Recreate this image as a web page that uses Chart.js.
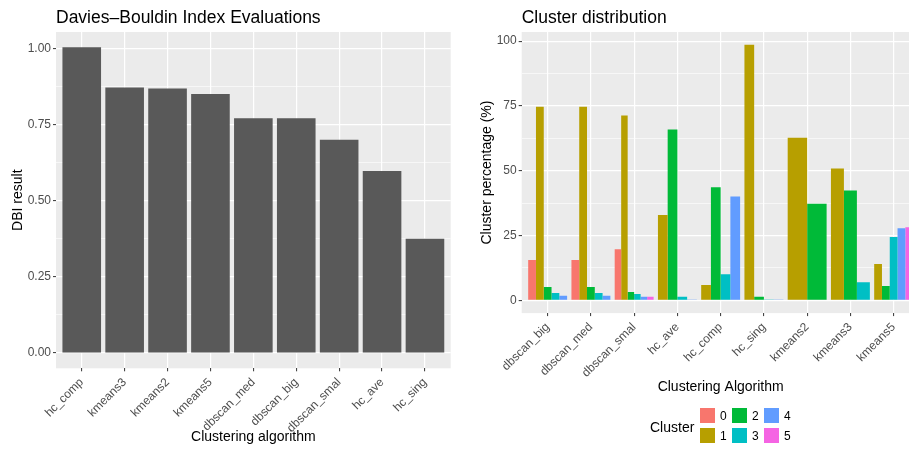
<!DOCTYPE html>
<html><head><meta charset="utf-8">
<script src="https://cdn.jsdelivr.net/npm/chart.js@4.4.1/dist/chart.umd.min.js"></script>
<style>
html,body{margin:0;padding:0;background:#fff;width:909px;height:450px;overflow:hidden;position:relative;font-family:'Liberation Sans',Arial,sans-serif;}
canvas{position:absolute;top:0;}
#c1{left:0px}
#c2{left:460px}
.ptitle{position:absolute;top:7px;font-size:17.5px;line-height:20px;color:#000;white-space:nowrap;}
.lgtitle{position:absolute;font-size:14px;line-height:16px;color:#000;white-space:nowrap;}
.key{position:absolute;width:15px;height:15px;}
.klab{position:absolute;font-size:12px;line-height:14px;color:#000;}
</style>
</head><body>
<canvas id="c1" width="460" height="450"></canvas>
<canvas id="c2" width="470" height="450"></canvas>
<div class="ptitle" style="left:56px">Davies–Bouldin Index Evaluations</div>
<div class="ptitle" style="left:521.7px">Cluster distribution</div>
<div id="legend"></div>
<script>
// ---- data: left chart ----
const dbiCategories = ['hc_comp','kmeans3','kmeans2','kmeans5','dbscan_med','dbscan_big','dbscan_smal','hc_ave','hc_sing'];
const dbiValues = [1.004, 0.872, 0.869, 0.851, 0.771, 0.771, 0.700, 0.598, 0.375];
const dbiMajorTicks = [0, 0.25, 0.5, 0.75, 1.0];
const dbiMinorTicks = [0.125, 0.375, 0.625, 0.875];

// ---- data: right chart ----
const algoCategories = ['dbscan_big','dbscan_med','dbscan_smal','hc_ave','hc_comp','hc_sing','kmeans2','kmeans3','kmeans5'];
const clusterNames = ['0','1','2','3','4','5'];
const cluster0 = [15.6, 15.6, 19.7, null, null, null, null, null, null];
const cluster1 = [74.7, 74.7, 71.3, 32.9, 5.9, 98.6, 62.7, 50.9, 14.0];
const cluster2 = [5.1, 5.1, 3.2, 65.9, 43.6, 1.4, 37.3, 42.4, 5.5];
const cluster3 = [2.8, 2.8, 2.4, 1.4, 10.1, 0.3, null, 7.0, 24.4];
const cluster4 = [1.8, 1.8, 1.4, 0.3, 40.1, 0.3, null, null, 27.8];
const cluster5 = [null, null, 1.4, null, null, null, null, null, 28.2];
const clusterColors = ['#F8766D','#B79F00','#00BA38','#00BFC4','#619CFF','#F564E3'];
const pctMajorTicks = [0, 25, 50, 75, 100];
const pctMinorTicks = [12.5, 37.5, 62.5, 87.5];

Chart.defaults.font.family = "'Liberation Sans', Arial, sans-serif";

const panelBg = {
  id: 'panelBg',
  beforeDraw(chart) {
    const {ctx, chartArea: a} = chart;
    ctx.save();
    ctx.fillStyle = '#EBEBEB';
    ctx.fillRect(a.left, a.top, a.right - a.left, a.bottom - a.top);
    ctx.restore();
  }
};

function yScale(majors, minors, lo, hi, fmt, title, width, titlePad) {
  const all = majors.concat(minors).sort((a, b) => a - b);
  return {
    type: 'linear', min: lo, max: hi,
    afterBuildTicks: s => { s.ticks = all.map(v => ({value: v})); },
    afterFit: s => { s.width = width; },
    border: {display: false},
    grid: {
      color: '#FFFFFF',
      lineWidth: c => (c.tick && majors.includes(c.tick.value)) ? 1.2 : 0.6,
      tickLength: 3,
      tickColor: c => (c.tick && majors.includes(c.tick.value)) ? '#333333' : 'rgba(0,0,0,0)',
      tickWidth: 1
    },
    ticks: {autoSkip: false, padding: 2, color: '#4D4D4D', font: {size: 12},
      callback: v => majors.includes(v) ? fmt(v) : ''},
    title: {display: true, text: title, color: '#000', font: {size: 14}, padding: {top: titlePad, bottom: 0}}
  };
}

function xScale(height, title, titlePad) {
  return {
    type: 'category', offset: true,
    afterBuildTicks: s => { s._startValue -= 0.1; s._valueRange += 0.2; },
    afterFit: s => { s.height = height; },
    border: {display: false},
    grid: {offset: false, color: '#FFFFFF', lineWidth: 1.2, tickLength: 3, tickColor: '#333333', tickWidth: 1},
    ticks: {autoSkip: false, minRotation: 45, maxRotation: 45, padding: 4, color: '#4D4D4D', font: {size: 12}},
    title: {display: true, text: title, color: '#000', font: {size: 14}, padding: {top: 0, bottom: titlePad}}
  };
}

// left chart
const dbiMax = Math.max(...dbiValues);
new Chart(document.getElementById('c1'), {
  type: 'bar',
  data: {
    labels: dbiCategories,
    datasets: [{data: dbiValues, backgroundColor: '#595959', borderWidth: 0, categoryPercentage: 0.9, barPercentage: 1}]
  },
  options: {
    responsive: false, animation: false,
    layout: {padding: {left: 0, right: 9.3, top: 32, bottom: 0}},
    plugins: {legend: {display: false}, tooltip: {enabled: false}},
    scales: {
      x: xScale(81.7, 'Clustering algorithm', 4.6),
      y: yScale(dbiMajorTicks, dbiMinorTicks, -0.05 * dbiMax, dbiMax * 1.05, v => v.toFixed(2), 'DBI result', 56, 10.2)
    }
  },
  plugins: [panelBg]
});

// right chart
const clusterSeries = [cluster0, cluster1, cluster2, cluster3, cluster4, cluster5];
const pctMax = Math.max(...clusterSeries.flat().filter(v => v !== null));
new Chart(document.getElementById('c2'), {
  type: 'bar',
  data: {
    labels: algoCategories,
    datasets: clusterSeries.map((d, i) => ({
      label: clusterNames[i], data: d, backgroundColor: clusterColors[i], borderWidth: 0,
      categoryPercentage: 0.9, barPercentage: 1, skipNull: true
    }))
  },
  options: {
    responsive: false, animation: false,
    layout: {padding: {left: 0, right: 10.4, top: 32, bottom: 0}},
    plugins: {legend: {display: false}, tooltip: {enabled: false}},
    scales: {
      x: xScale(136.9, 'Clustering Algorithm', 54.9),
      y: yScale(pctMajorTicks, pctMinorTicks, -0.05 * pctMax, pctMax * 1.05, v => String(v), 'Cluster percentage (%)', 61.7, 18.6)
    }
  },
  plugins: [panelBg]
});

// legend (HTML)
const lg = document.getElementById('legend');
const t = document.createElement('div');
t.className = 'lgtitle'; t.textContent = 'Cluster';
t.style.left = '650px'; t.style.top = '419px';
lg.appendChild(t);
clusterNames.forEach((name, i) => {
  const col = Math.floor(i / 2), row = i % 2;
  const kx = 700 + col * 32, ky = 408.3 + row * 20;
  const k = document.createElement('div');
  k.className = 'key'; k.style.background = clusterColors[i];
  k.style.left = kx + 'px'; k.style.top = ky + 'px';
  lg.appendChild(k);
  const l = document.createElement('div');
  l.className = 'klab'; l.textContent = name;
  l.style.left = (kx + 20) + 'px'; l.style.top = (ky + 0.5) + 'px';
  lg.appendChild(l);
});
</script>
</body></html>
